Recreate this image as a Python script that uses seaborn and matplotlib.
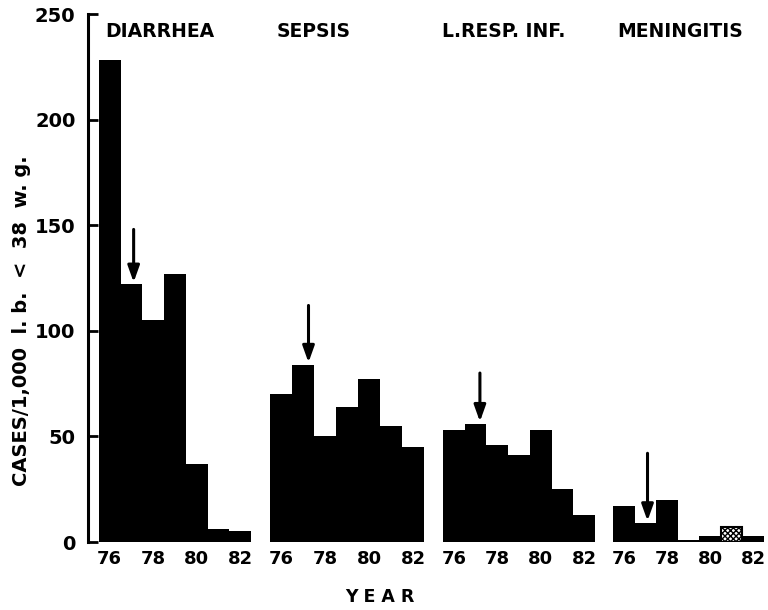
import seaborn as sns
import pandas as pd
import matplotlib
matplotlib.use("Agg")
import matplotlib.pyplot as plt

# values (cases / 1,000 l.b. < 38 w.g.)
years = ["76", "77", "78", "79", "80", "81", "82"]
diarrhea = [228, 122, 105, 127, 37, 6, 5]
sepsis = [70, 84, 50, 64, 77, 55, 45]
lresp = [53, 56, 46, 41, 53, 25, 13]
meningitis = [17, 9, 20, 0.8, 3, 7, 3]

titles = ["DIARRHEA", "SEPSIS", "L.RESP. INF.", "MENINGITIS"]
series = [diarrhea, sepsis, lresp, meningitis]
# arrow (x position, tail, tip) per panel
arrows = [(1.1, 148, 123), (1.25, 112, 85), (1.2, 80, 57), (1.1, 42, 10)]
tick_years = ["76", "78", "80", "82"]

sns.set_theme(style="white")
plt.rcParams["font.family"] = ["DejaVu Sans"]
plt.rcParams["font.weight"] = "bold"
for k in ["text.color", "xtick.color", "ytick.color", "axes.labelcolor", "axes.edgecolor"]:
    plt.rcParams[k] = "black"

W, H = 768, 610
fig = plt.figure(figsize=(7.68, 6.10), dpi=100)

# panel pixel extents (left, right, xlim start)
panels = [(88, 251, -1.0), (270, 424, -0.5), (443, 595, -0.5), (613, 764, -0.5)]
bottom_px, top_px = 542, 14

for i, (vals, title) in enumerate(zip(series, titles)):
    l, r, x0 = panels[i]
    ax = fig.add_axes([l / W, (H - bottom_px) / H, (r - l) / W, (bottom_px - top_px) / H])
    df = pd.DataFrame({"year": years, "cases": vals})
    sns.barplot(data=df, x="year", y="cases", order=years, color="black",
                width=1.0, linewidth=0, saturation=1, ax=ax)
    ax.set_xlim(x0, 6.5)
    ax.set_ylim(0, 250)
    ax.set_xlabel("")
    ax.set_ylabel("")
    ax.set_xticks([0, 2, 4, 6])
    ax.set_xticklabels(tick_years, fontsize=13, fontweight="bold", color="black")
    ax.tick_params(axis="x", length=0, pad=6)
    for s in ["top", "right", "bottom"]:
        ax.spines[s].set_visible(False)
    if i == 0:
        ax.spines["left"].set_color("black")
        ax.spines["left"].set_linewidth(2.2)
        ax.set_yticks([0, 50, 100, 150, 200, 250])
        ax.set_yticklabels(["0", "50", "100", "150", "200", "250"],
                           fontsize=14, fontweight="bold", color="black")
        ax.tick_params(axis="y", direction="in", length=7, width=2, pad=9,
                       left=True, color="black")
    else:
        ax.spines["left"].set_visible(False)
        ax.set_yticks([])
    ax.patch.set_alpha(0)

    if i == 3:
        p = ax.patches[5]
        p.set_facecolor("white")
        p.set_hatch("xxxxxx")
        p.set_edgecolor("black")
        p.set_linewidth(1.5)

    ax_x, tail, tip = arrows[i]
    ax.annotate("", xy=(ax_x, tip), xytext=(ax_x, tail),
                arrowprops=dict(arrowstyle="-|>,head_length=0.7,head_width=0.25",
                                color="black", lw=2.2,
                                mutation_scale=14, shrinkA=0, shrinkB=0))

# panel titles
title_x = [105, 277, 442, 617]
for tx, t in zip(title_x, titles):
    fig.text(tx / W, (H - 31.5) / H, t, fontsize=13.5, fontweight="bold",
             ha="left", va="center", color="black")

fig.text(380 / W, (H - 597) / H, "Y E A R", fontsize=12.5, fontweight="bold",
         ha="center", va="center", color="black")
fig.text(22 / W, (H - 321) / H, "CASES/1,000  l. b.  <  38  w. g.", fontsize=14,
         fontweight="bold", rotation=90, ha="center", va="center", color="black")

fig.savefig("out.png", dpi=100)
